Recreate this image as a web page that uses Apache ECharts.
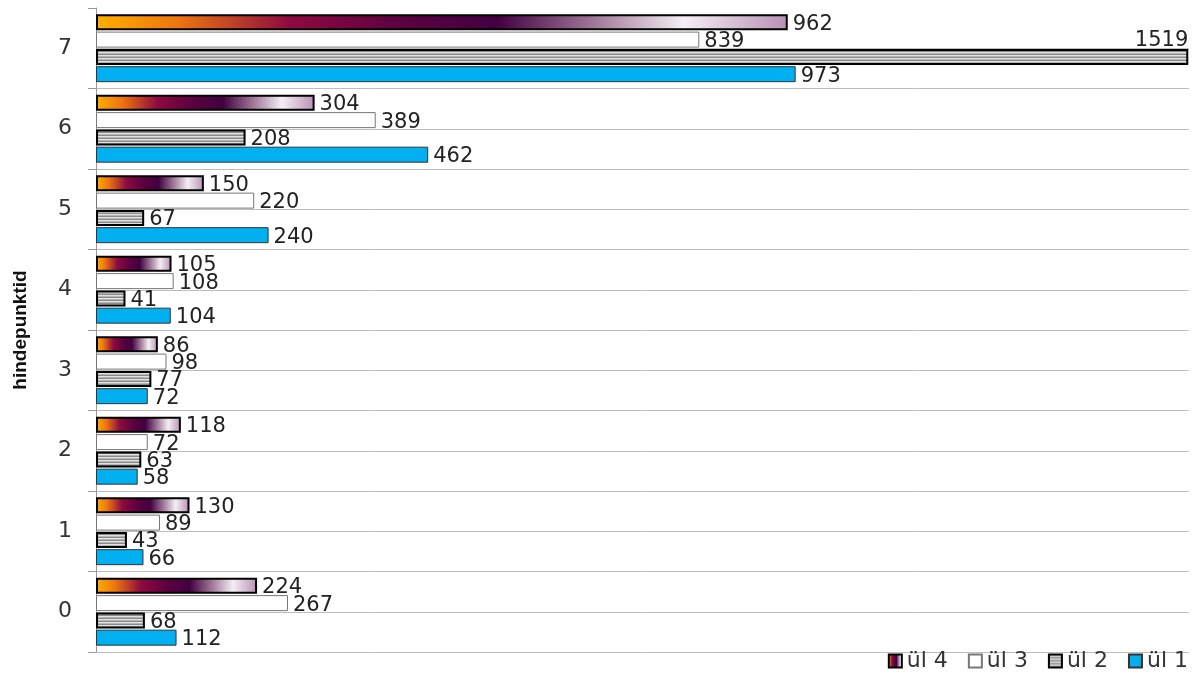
<!DOCTYPE html>
<html>
<head>
<meta charset="utf-8">
<script src="https://cdn.jsdelivr.net/npm/echarts@6/dist/echarts.min.js"></script>
<style>html,body{margin:0;padding:0;background:#fff;}#c{width:1201px;height:677px;}</style>
</head>
<body>
<div id="c"></div>
<script>
const categories = ['0', '1', '2', '3', '4', '5', '6', '7'];
const ul1 = [112, 66, 58, 72, 104, 240, 462, 973];
const ul2 = [68, 43, 63, 77, 41, 67, 208, 1519];
const ul3 = [267, 89, 72, 98, 108, 220, 389, 839];
const ul4 = [224, 130, 118, 86, 105, 150, 304, 962];
const seriesNames = ['ül 4', 'ül 3', 'ül 2', 'ül 1'];
const legendOrder = ['ül 4', 'ül 3', 'ül 2', 'ül 1'];
const axisName = 'hindepunktid';

const FONT = 'DejaVu Sans';

// stripe pattern for ül 2
const pc = document.createElement('canvas');
pc.width = 4; pc.height = 3;
const pctx = pc.getContext('2d');
['#8a8a8a', '#e2e2e2', '#b4b4b4'].forEach((c, i) => { pctx.fillStyle = c; pctx.fillRect(0, i, 4, 1); });

const grad4 = {
  type: 'linear', x: 0, y: 0, x2: 1, y2: 0,
  colorStops: [
    { offset: 0, color: '#ffb000' },
    { offset: 0.12, color: '#ee7410' },
    { offset: 0.28, color: '#8e0a40' },
    { offset: 0.45, color: '#5a0040' },
    { offset: 0.58, color: '#420040' },
    { offset: 0.72, color: '#a07898' },
    { offset: 0.85, color: '#f4eef4' },
    { offset: 1, color: '#b890b4' }
  ]
};

const labelBase = { show: true, position: 'right', distance: 5, fontFamily: FONT, fontSize: 21, color: '#222', offset: [0, 2] };

function mkData(arr) {
  return arr.map((v) => {
    if (v > 1400) {
      return { value: v, label: { position: 'insideRight', distance: 0, offset: [0, -16] } };
    }
    return v;
  });
}

const styles = [
  { color: grad4, borderColor: '#000', borderWidth: 2 },
  { color: '#ffffff', borderColor: '#777', borderWidth: 1 },
  { color: { image: pc, repeat: 'repeat' }, borderColor: '#000', borderWidth: 2 },
  { color: '#00b0f0', borderColor: '#333', borderWidth: 1 }
];
const dataArr = [ul4, ul3, ul2, ul1];

const series = seriesNames.map((n, k) => ({
  name: n,
  type: 'bar',
  yAxisIndex: 0,
  barWidth: 16,
  barGap: '8%',
  itemStyle: styles[k],
  label: labelBase,
  data: mkData(dataArr[k]),
  animation: false
}));

const chart = echarts.init(document.getElementById('c'));
chart.setOption({
  animation: false,
  backgroundColor: '#fff',
  grid: { left: 96, right: 12, top: 8, bottom: 25 },
  legend: {
    data: legendOrder,
    right: 8, bottom: 0,
    itemWidth: 13, itemHeight: 13, itemGap: 20,
    icon: 'rect',
    textStyle: { fontFamily: FONT, fontSize: 22, color: '#333' }
  },
  xAxis: { type: 'value', min: 0, max: 1520, show: false },
  yAxis: [
    {
      type: 'category', data: categories,
      name: axisName, nameLocation: 'middle', nameGap: 66,
      nameTextStyle: { fontFamily: 'Liberation Sans', fontWeight: 'bold', fontSize: 19, color: '#111' },
      axisLine: { show: true, lineStyle: { color: '#999', width: 1 } },
      axisTick: { show: true, length: 8, lineStyle: { color: '#999' } },
      axisLabel: { fontFamily: FONT, fontSize: 22, color: '#333', margin: 24 },
      splitLine: { show: false }
    },
    {
      type: 'value', min: 0, max: 16, interval: 1, position: 'right',
      axisLine: { show: false }, axisTick: { show: false }, axisLabel: { show: false },
      splitLine: { show: true, showMaxLine: false, lineStyle: { color: '#bdbdbd', width: 1 } }
    }
  ],
  series: series
});
</script>
</body>
</html>
